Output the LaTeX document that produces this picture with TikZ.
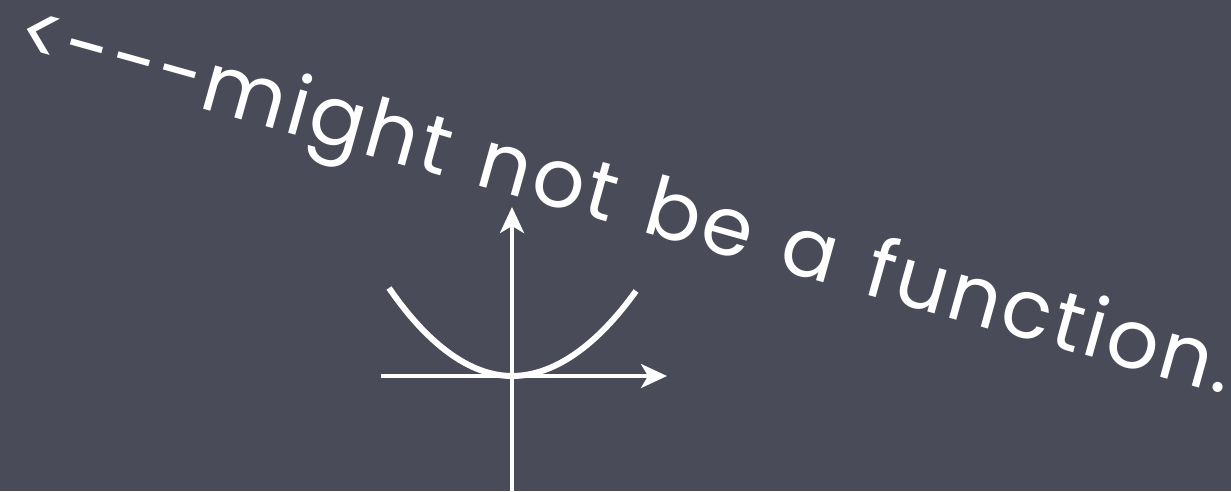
\documentclass[tikz,border=0pt]{standalone}
\usepackage{fontspec}
\setmainfont{Poppins}
\newfontfamily\labelfont[LetterSpace=3.6, WordSpace=1.3]{Poppins}
\usetikzlibrary{arrows.meta}
\definecolor{bg}{RGB}{74,75,89}
\tikzset{
  axis/.style={white, line width=3.5pt, -{Stealth[length=26pt, width=24pt, inset=7pt]}},
  curve/.style={white, line width=6pt},
  label/.style={white, font=\labelfont\fontsize{82}{96}\selectfont, inner sep=0pt}
}
\begin{document}
\begin{tikzpicture}[x=1pt, y=-1pt]
  \fill[bg] (0,0) rectangle (1231,491);
  \useasboundingbox (0,0) rectangle (1231,491);
  \coordinate (ybot) at (512,491);
  \coordinate (ytop) at (512,207);
  \coordinate (xl) at (381,376);
  \coordinate (xr) at (667,376);
  \draw[curve] (389,288) parabola bend (512,376) (636,291);
  \draw[axis] (ybot) -- (ytop);
  \draw[axis] (xl) -- (xr);
  \node[label, anchor=base west, rotate=-15.6] (txt) at (12,56) {<{-}{-}{-}might not be a function.};
\end{tikzpicture}
\end{document}
